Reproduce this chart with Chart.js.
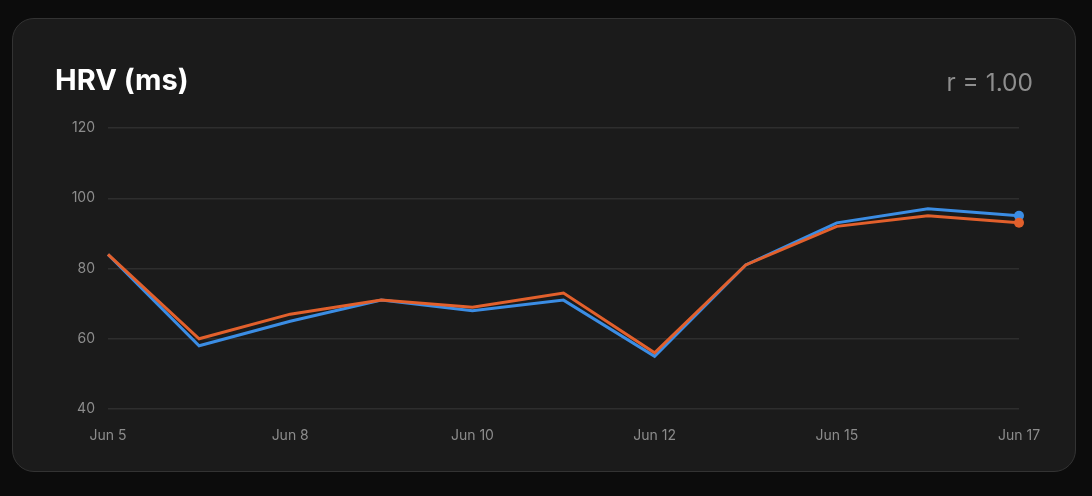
<!DOCTYPE html>
<html>
<head>
<meta charset="utf-8">
<script src="https://cdn.jsdelivr.net/npm/chart.js@4.4.0/dist/chart.umd.min.js"></script>
<style>
  html, body { margin: 0; padding: 0; background: #0c0c0c; width: 1092px; height: 496px; overflow: hidden; font-family: Inter, "Noto Sans", sans-serif; }
  #card { position: absolute; left: 12px; top: 18px; width: 1062px; height: 452px; background: #1b1b1b; border: 1px solid #333333; border-radius: 22px; box-sizing: content-box; }
  #title { position: absolute; left: 42px; top: 41px; color: #ffffff; font-weight: 700; font-size: 29px; line-height: 40px; }
  #rval { position: absolute; right: 42px; top: 43px; color: #8e8e8e; font-size: 24.5px; line-height: 40px; }
  #wrap { position: absolute; left: 0; top: 0; width: 1062px; height: 452px; }
</style>
</head>
<body>
<div id="card">
  <div id="wrap"><canvas id="c"></canvas></div>
  <div id="title">HRV (ms)</div>
  <div id="rval">r = 1.00</div>
</div>
<script>
const categories = ['Jun 5','Jun 7','Jun 8','Jun 9','Jun 10','Jun 11','Jun 12','Jun 14','Jun 15','Jun 16','Jun 17'];
const seriesBlue = [84, 58, 65, 71, 68, 71, 55, 81, 93, 97, 95];
const seriesOrange = [84, 60, 67, 71, 69, 73, 56, 81, 92, 95, 93];
const yTicks = [40, 60, 80, 100, 120];

const lastOnly = (r) => (ctx) => ctx.dataIndex === ctx.dataset.data.length - 1 ? r : 0;

new Chart(document.getElementById('c'), {
  type: 'line',
  data: {
    labels: categories,
    datasets: [
      { label: 'B', data: seriesOrange, borderColor: '#e2602c', backgroundColor: '#e2602c', borderWidth: 3, pointRadius: lastOnly(5), pointHoverRadius: 0, pointBorderWidth: 0, tension: 0 },
      { label: 'A', data: seriesBlue, borderColor: '#3b8de4', backgroundColor: '#3b8de4', borderWidth: 3, pointRadius: lastOnly(5), pointHoverRadius: 0, pointBorderWidth: 0, tension: 0 }
    ]
  },
  options: {
    responsive: true,
    maintainAspectRatio: false,
    animation: false,
    layout: { padding: { left: 0, right: 56, top: 109, bottom: 0 } },
    plugins: { legend: { display: false }, tooltip: { enabled: false } },
    scales: {
      x: {
        grid: { display: false, drawTicks: false },
        border: { display: false },
        afterFit: (s) => { s.height = 62; },
        ticks: {
          autoSkip: false, maxRotation: 0, color: '#8c8c8c', padding: 18,
          font: { family: 'Inter', size: 14 },
          callback: function (v, i) { return i % 2 === 0 ? this.getLabelForValue(v) : ''; }
        }
      },
      y: {
        min: yTicks[0], max: yTicks[yTicks.length - 1],
        afterBuildTicks: (s) => { s.ticks = yTicks.map(v => ({ value: v })); },
        afterFit: (s) => { s.width = 95; },
        grid: { color: '#2e2e2e', lineWidth: 1.5, drawTicks: false },
        border: { display: false },
        ticks: { color: '#8c8c8c', padding: 13, font: { family: 'Inter', size: 14 } }
      }
    }
  }
});
</script>
</body>
</html>
